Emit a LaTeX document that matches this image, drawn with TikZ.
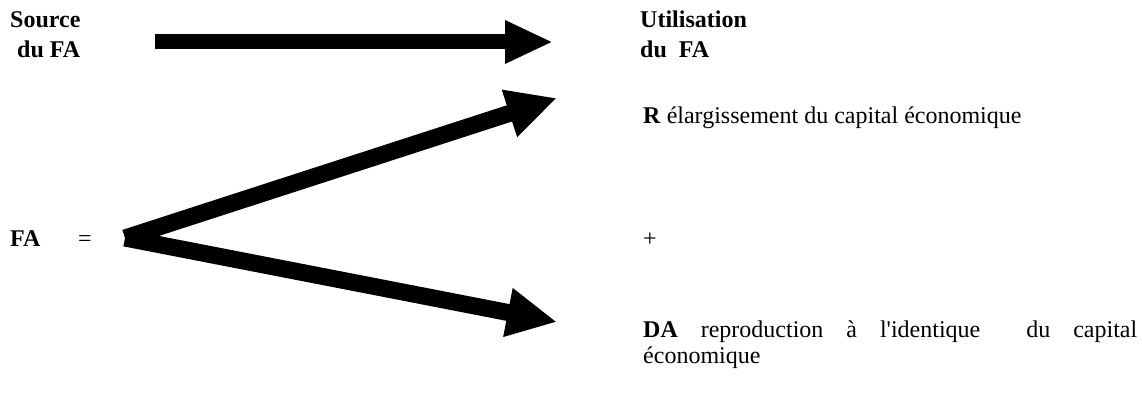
\documentclass[tikz,border=0pt]{standalone}
\usepackage{fontspec}
\setmainfont{Liberation Serif}[Ligatures=TeXOff]
\usetikzlibrary{arrows.meta}
\begin{document}
\begin{tikzpicture}[x=1pt,y=-1pt,
  txt/.style={anchor=base west,inner sep=0pt,font=\fontsize{24}{28}\selectfont},
  bigarrow/.style={line width=15pt,line cap=butt,-{Triangle[length=48pt,width=40pt]}},
  varrow/.style={line width=17pt,line cap=butt,-{Triangle[length=50pt,width=46pt]}}]
\useasboundingbox[fill=white] (0,0) rectangle (1142,396);
% header texts
\node[txt] (src1) at (10,28) {\textbf{Source}};
\node[txt] (src2) at (17,57) {\textbf{du FA}};
\node[txt] (use1) at (640,28) {\textbf{Utilisation}};
\node[txt] (use2) at (640,57) {\textbf{du\ \ FA}};
% top arrow
\coordinate (ta) at (155,42);
\coordinate (tb) at (553,42);
\draw[bigarrow] (ta) -- (tb);
% left side
\node[txt] (fa) at (10,246) {\textbf{FA}};
\node[txt] (eq) at (78,246) {=};
\coordinate (v) at (125,238);
\coordinate (up) at (557,98);
\coordinate (dn) at (557,322);
\draw[varrow] (v) -- (up);
\draw[varrow] (v) -- (dn);
% right texts
\node[txt] (r) at (643,123) {\textbf{R} élargissement du capital économique};
\node[txt] (plus) at (643,246) {+};
\node[txt] (da1) at (643,337) {\makebox[494pt][s]{\textbf{DA} reproduction à l'identique\ \ du capital}};
\node[txt] (da2) at (643,363) {économique};
\end{tikzpicture}
\end{document}
